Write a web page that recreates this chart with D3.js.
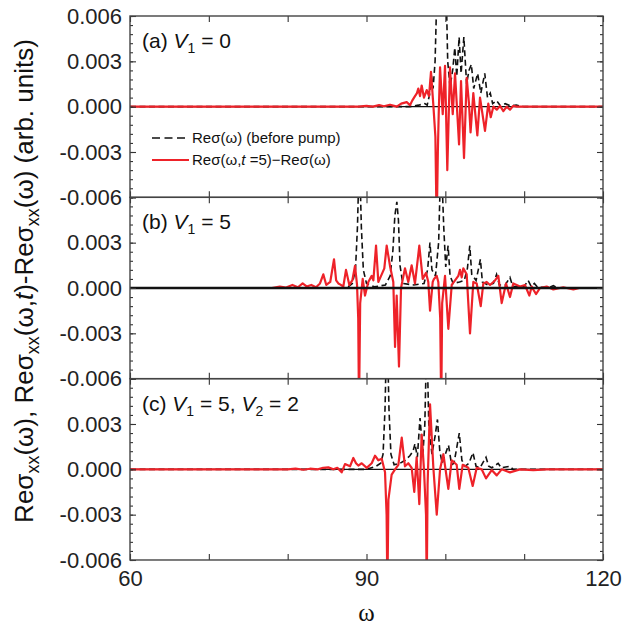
<!DOCTYPE html>
<html><head><meta charset="utf-8">
<script src="https://cdn.jsdelivr.net/npm/d3@7"></script>
<style>body{margin:0;background:#fff}</style>
</head><body>
<svg id="chart" width="624" height="629"></svg>
<script>
// ---------- data ----------
const xTickValues = [60,70,80,90,100,110,120];
const xTickLabels = [60,90,120];
const yTickLabels = [0.006,0.003,0,-0.003,-0.006];
const panelNames = ["(a)","(b)","(c)"];

const panelA_before = [[60,0],[95.5,0],[96.6,0.0001],[97.4,0.0002],[97.7,0.0001],[98.0,0.0008],[98.2,0.0022],[98.45,0.0012],[98.7,0.003],[98.9,0.007],[99.2,0.011],[99.7,0.012],[100.1,0.008],[100.3,0.003],[100.6,0.0013],[100.95,0.0025],[101.2,0.0039],[101.45,0.002],[101.75,0.0046],[102.0,0.0022],[102.35,0.0046],[102.7,0.0015],[103.0,0.0024],[103.3,0.0028],[103.6,0.0012],[104.1,0.0022],[104.5,0.0009],[105.0,0.0022],[105.35,0.0006],[105.7,0.0009],[106.0,0.0002],[106.5,0.0004],[107.0,0.00005],[107.6,0.0002],[108.3,0.00005],[109,0.0001],[110,0],[120,0]];
const panelA_pump = [[60,0],[89,0],[90,0.00005],[90.8,0],[91.6,0.0001],[92.2,0.00003],[92.98,0.00013],[93.5,0.00005],[93.83,0],[94.4,0.0002],[95.1,0.0003],[95.52,0.0001],[95.8,0.0004],[96.15,0.0007],[96.4,0.0009],[96.57,0.0012],[96.79,0.0007],[97.0,0.0014],[97.29,0.0006],[97.64,0.0011],[97.93,0.0007],[98.18,0.0023],[98.48,0.0001],[98.74,-0.002],[98.9,-0.008],[99.05,-0.003],[99.16,-0.0005],[99.33,0.0026],[99.67,-0.0005],[99.96,0.0027],[100.25,-0.0042],[100.59,0.0026],[100.94,-0.0005],[101.23,0.0022],[101.74,-0.0025],[101.99,0.0017],[102.37,-0.0034],[102.71,0.0019],[103.0,0.0002],[103.2,-0.0017],[103.55,0.0009],[104.06,-0.0019],[104.4,0.0006],[105.03,-0.0016],[105.45,0.0002],[105.76,-0.0007],[106.09,0],[106.52,-0.0002],[106.94,0.00005],[107.36,-0.0003],[107.79,0],[108.2,-0.0002],[108.6,0.00005],[109.06,0],[120,0]];

const panelB_before = [[60,0],[87.5,0],[88.2,0.0003],[88.6,0.0012],[88.85,0.004],[89.1,0.009],[89.35,0.004],[89.6,0.0012],[90.0,0.0003],[91.0,0.00008],[92.4,0.0002],[93.0,0.0008],[93.35,0.0025],[93.6,0.0048],[93.85,0.0057],[94.05,0.0045],[94.25,0.0015],[94.6,0.0003],[96.0,0.0002],[97.3,0.0003],[97.75,0.0012],[98.05,0.003],[98.3,0.0012],[98.75,0.0008],[99.15,0.003],[99.45,0.009],[99.8,0.004],[100.05,0.0014],[100.35,0.0028],[100.6,0.0008],[101.0,0.0003],[101.8,0.0004],[102.4,0.0005],[102.8,0.0013],[103.1,0.0028],[103.35,0.0009],[103.9,0.0005],[104.45,0.0019],[104.7,0.0004],[105.4,0.0002],[106.1,0.0003],[106.5,0.0009],[106.85,0.0002],[107.6,0.0002],[108.2,0.0007],[108.55,0.0001],[110.0,0.0001],[110.5,0.0005],[110.9,0.0001],[111.3,0.0003],[111.7,0.00005],[113.2,0.00005],[113.7,0.00015],[114.2,0],[120,0]];
const panelB_pump = [[62,0],[78,0],[79,0.0001],[79.8,0.00003],[80.6,0.0002],[81.3,0.00005],[81.9,0.0003],[82.4,0.0001],[83.0,0.0002],[83.6,0.00005],[84.1,0.0003],[84.52,0.0009],[84.9,0.0002],[85.4,0.0004],[85.88,0.0019],[86.15,0.0005],[86.43,0.0003],[86.64,0.00024],[87.06,0.0001],[87.4,0.0012],[87.82,0.0002],[88.2,0.0005],[88.54,0.00146],[88.8,0.0002],[88.95,-0.002],[89.05,-0.008],[89.2,-0.001],[89.52,0.0006],[89.81,-0.0005],[90.23,0.0004],[90.66,0.0008],[90.87,0.0005],[91.21,0.0028],[91.5,0.0004],[91.93,0.0009],[92.26,0.0013],[92.56,0.0028],[92.98,0.00146],[93.4,0.0004],[93.62,-0.0039],[93.83,-0.0005],[94.12,-0.0052],[94.38,0],[94.88,0.0013],[95.3,0.0004],[95.73,0.0015],[96.15,0.0003],[96.7,0.0028],[97.13,0.0006],[97.55,0.001],[97.84,0.0004],[98.06,-0.0015],[98.4,0.0004],[98.56,0.0006],[98.91,0.0008],[99.11,0.0004],[99.35,-0.002],[99.48,-0.008],[99.6,-0.001],[99.96,0.0008],[100.38,-0.0027],[100.81,0.0002],[101.23,0.0005],[101.65,0.0008],[101.86,0.0012],[102.08,0.0007],[102.28,0.0013],[102.71,0.0009],[103.13,-0.003],[103.55,0.0004],[103.98,0.0003],[104.49,-0.0012],[104.82,0.0003],[105.25,0.0004],[105.67,0.0002],[106.3,0.0005],[106.72,0.0008],[107.15,-0.001],[107.7,0.0003],[108.2,-0.0006],[108.62,0.0003],[109.47,0.0001],[110.1,0.0002],[110.66,-0.0005],[110.96,0.0001],[111.16,-0.0001],[111.5,-0.0004],[112.01,0],[112.85,0.0001],[113.7,-0.0001],[114.96,0.00005],[116.24,-0.0001],[117,0]];

const panelC_before = [[60,0],[90,0],[91.2,0.0002],[91.8,0.0004],[92.1,0.001],[92.35,0.004],[92.6,0.01],[92.85,0.004],[93.1,0.001],[93.5,0.0003],[94.25,0.0004],[94.9,0.0006],[95.5,0.0009],[95.9,0.0012],[96.15,0.0017],[96.45,0.0008],[96.79,0.0034],[97.15,0.001],[97.4,0.003],[97.65,0.009],[97.9,0.003],[98.3,0.001],[98.7,0.0022],[99.0,0.0033],[99.3,0.0012],[99.6,0.0004],[100.4,0.0016],[100.8,0.0003],[101.1,0.0004],[101.77,0.0024],[102.1,0.0006],[102.5,0.0002],[103.0,0.0004],[103.5,0.0011],[103.9,0.0002],[104.4,0.0001],[105.16,0.0008],[105.5,0.0002],[105.9,0.0001],[106.7,0.0004],[107.1,0.0001],[108.2,0.0002],[108.6,0],[120,0]];
const panelC_pump = [[60,0],[80,0],[81,0.00005],[82,-0.00003],[82.83,0.00004],[83.8,0],[84.5,0.0001],[85.16,0.00013],[85.79,0],[86.3,0.0001],[86.85,-0.0002],[87.27,0.00035],[87.91,0.0002],[88.33,0.00075],[88.67,0.0004],[88.96,0.00025],[89.39,0.0004],[90.03,0.0001],[90.66,0.0004],[91.08,0.0009],[91.5,0.0006],[91.93,0.0007],[92.35,-0.0002],[92.55,-0.003],[92.65,-0.008],[92.78,-0.002],[93.19,-0.00035],[93.62,0],[94.04,0.0003],[94.47,0.0021],[94.88,0.0002],[95.3,0.0004],[95.73,0.0001],[96.06,-0.0015],[96.36,0.0008],[96.7,-0.0023],[97.0,0.0023],[97.29,0],[97.55,-0.003],[97.64,-0.008],[97.75,-0.001],[98.06,0.0043],[98.48,0.0001],[98.91,-0.003],[99.33,0],[99.75,0.001],[100.38,-0.0013],[100.81,0.0006],[101.44,0.0003],[101.77,-0.0013],[102.2,0.0003],[102.91,0.0001],[103.47,-0.0011],[103.98,0.0001],[104.61,0],[105.16,-0.0006],[105.88,-0.00005],[106.52,-0.0004],[107.15,0],[108.2,-0.0002],[109.47,0],[111.16,-0.00005],[112.85,0],[120,0]];

const panels = [
  {name:"(a)", before:panelA_before, pump:panelA_pump, label:[["V","1"," = 0"]], zeroTop:false},
  {name:"(b)", before:panelB_before, pump:panelB_pump, label:[["V","1"," = 5"]], zeroTop:true},
  {name:"(c)", before:panelC_before, pump:panelC_pump, label:[["V","1"," = 5, "],["V","2"," = 2"]], zeroTop:false}
];

// ---------- layout ----------
const svg = d3.select("#chart");
const L = 130, R = 603, T = 16, PH = 181.33;
const FONT = "'Liberation Sans', Arial, sans-serif";
const RED = "#ee2229";
const x = d3.scaleLinear().domain([60,120]).range([L,R]);
const minorY = d3.range(-0.006, 0.00601, 0.0006);

panels.forEach((p,i)=>{
  const top = T + i*PH, bot = top + PH;
  const y = d3.scaleLinear().domain([-0.006,0.006]).range([bot, top]);
  const g = svg.append("g");
  const cid = "clip"+i;
  svg.append("clipPath").attr("id",cid).append("rect")
    .attr("x",L).attr("y",top).attr("width",R-L).attr("height",PH);
  const plot = g.append("g").attr("clip-path",`url(#${cid})`);
  const line = d3.line().x(d=>x(d[0])).y(d=>y(d[1]));
  const zero = ()=> plot.append("line").attr("x1",L).attr("x2",R)
      .attr("y1",y(0)).attr("y2",y(0)).attr("stroke","#111")
      .attr("stroke-width", p.zeroTop?2.6:1.2);
  if(!p.zeroTop) zero();
  plot.append("path").datum(p.before).attr("d",line).attr("fill","none")
    .attr("stroke","#111").attr("stroke-width",1.6).attr("stroke-dasharray","6,3.5");
  plot.append("path").datum(p.pump).attr("d",line).attr("fill","none")
    .attr("stroke",RED).attr("stroke-width",2.2).attr("stroke-linejoin","round");
  if(p.zeroTop) zero();

  // axes (the shared boundary label "0.006" of lower panels coincides with "-0.006" above)
  const shownLabels = i===0 ? yTickLabels : yTickLabels.filter(v=>v!==0.006);
  const style = sel => { sel.select(".domain").remove();
    sel.selectAll("line").attr("stroke","#333").attr("stroke-width",1.1);
    sel.selectAll("text").attr("font-family",FONT).attr("font-size",22).attr("fill","#222"); };
  g.append("g").attr("transform",`translate(${L},0)`)
    .call(d3.axisLeft(y).tickValues(yTickLabels).tickSize(-6).tickSizeOuter(0).tickPadding(8)
      .tickFormat(d=> shownLabels.includes(d) ? d3.format(".3f")(d).replace("−","-") : "")).call(style);
  g.append("g").attr("transform",`translate(${L},0)`)
    .call(d3.axisLeft(y).tickValues(minorY).tickSize(-3).tickSizeOuter(0).tickFormat("")).call(style);
  g.append("g").attr("transform",`translate(${R},0)`)
    .call(d3.axisRight(y).tickValues(yTickLabels).tickSize(-6).tickSizeOuter(0).tickFormat("")).call(style);
  g.append("g").attr("transform",`translate(${R},0)`)
    .call(d3.axisRight(y).tickValues(minorY).tickSize(-3).tickSizeOuter(0).tickFormat("")).call(style);
  g.append("g").attr("transform",`translate(0,${top})`)
    .call(d3.axisTop(x).tickValues(xTickValues).tickSize(-6).tickSizeOuter(0).tickFormat("")).call(style);
  g.append("g").attr("transform",`translate(0,${bot})`)
    .call(d3.axisBottom(x).tickValues(xTickValues).tickSize(-6).tickSizeOuter(0).tickPadding(10)
      .tickFormat(d=> (i===2 && xTickLabels.includes(d)) ? d : "")).call(style);

  // frame
  g.append("rect").attr("x",L).attr("y",top).attr("width",R-L).attr("height",PH)
    .attr("fill","none").attr("stroke","#444").attr("stroke-width",1.4);

  // panel label
  const t = g.append("text").attr("x",142).attr("y",top+32).attr("font-family",FONT)
    .attr("font-size",21).attr("fill","#111");
  t.append("tspan").text(p.name+" ");
  p.label.forEach(seg=>{
    t.append("tspan").attr("font-style","italic").text(seg[0]);
    t.append("tspan").attr("font-size",14).attr("dy",5).text(seg[1]);
    t.append("tspan").attr("dy",-5).text(seg[2]);
  });
});

// legend in panel (a)
const lg = svg.append("g").attr("font-family",FONT).attr("font-size",15).attr("fill","#111");
lg.append("line").attr("x1",152).attr("x2",186).attr("y1",138).attr("y2",138)
  .attr("stroke","#111").attr("stroke-width",1.4).attr("stroke-dasharray","8,4.5");
lg.append("text").attr("x",192).attr("y",143).text("Reσ(ω) (before pump)");
lg.append("line").attr("x1",152).attr("x2",189).attr("y1",160).attr("y2",160)
  .attr("stroke",RED).attr("stroke-width",2.2);
const lt = lg.append("text").attr("x",192).attr("y",165);
lt.append("tspan").text("Reσ(ω,");
lt.append("tspan").attr("font-style","italic").text("t");
lt.append("tspan").text(" =5)−Reσ(ω)");

// axis titles
svg.append("text").attr("x",(L+R)/2).attr("y",621).attr("text-anchor","middle")
  .attr("font-family","'Liberation Serif', 'Times New Roman', serif").attr("font-size",25)
  .attr("fill","#111").text("ω");

const yl = svg.append("text").attr("transform","translate(33,281) rotate(-90)")
  .attr("text-anchor","middle").attr("font-family",FONT).attr("font-size",26).attr("fill","#111");
const parts = [["Reσ",0],["xx",1],["(ω), Reσ",0],["xx",1],["(ω,",0],["t",2],[")-Reσ",0],["xx",1],["(ω) (arb. units)",0]];
let sub = false;
parts.forEach(([s,k])=>{
  const ts = yl.append("tspan").text(s);
  if(k===1){ ts.attr("font-size",18).attr("dy",6); sub=true; }
  else { if(sub){ ts.attr("dy",-6); sub=false; } if(k===2) ts.attr("font-style","italic"); }
});
</script>
</body></html>
